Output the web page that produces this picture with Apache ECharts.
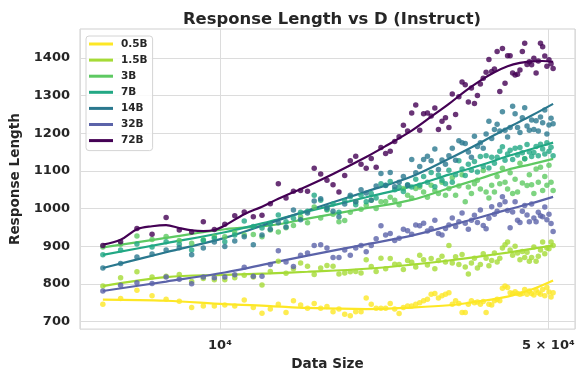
<!DOCTYPE html>
<html>
<head>
<meta charset="utf-8">
<script src="https://cdn.jsdelivr.net/npm/echarts@6/dist/echarts.min.js"></script>
<style>
  html, body { margin: 0; padding: 0; background: #ffffff; }
  #chart { width: 581px; height: 376px; }
</style>
</head>
<body>
<div id="chart"></div>
<script>
// Model sizes and their colours (viridis-like, small -> large)
const modelNames = ['0.5B', '1.5B', '3B', '7B', '14B', '32B', '72B'];
const modelColors = ['#fde725', '#a5db36', '#5ec962', '#22a884', '#2a788e', '#5b63a9', '#440154'];

// Training data sizes shared by every model run
const dataSizes = [
  5632, 6144, 6656, 7168, 7680, 8192, 8704, 9216, 9728, 10240,
  10752, 11264, 11776, 12288, 12800, 13312, 13824, 14336, 14848, 15360,
  15872, 16384, 16896, 17408, 17920, 18432, 18944, 19456, 19968, 20480,
  20992, 21504, 22016, 22528, 23040, 23552, 24064, 24576, 25088, 25600,
  26112, 26624, 27136, 27648, 28160, 28672, 29184, 29696, 30208, 30720,
  31232, 31744, 32256, 32768, 33280, 33792, 34304, 34816, 35328, 35840,
  36352, 36864, 37376, 37888, 38400, 38912, 39424, 39936, 40448, 40960,
  41472, 41984, 42496, 43008, 43520, 44032, 44544, 45056, 45568, 46080,
  46592, 47104, 47616, 48128, 48640, 49152, 49664, 50176, 50688, 51200
];

// Measured mean response length per data size
const len05B = [
  746, 761, 783, 768, 759, 754, 737, 741, 741, 744,
  741, 757, 737, 722, 733, 746, 724, 755, 744, 735,
  748, 735, 740, 726, 733, 719, 715, 726, 726, 762,
  746, 735, 735, 735, 748, 733, 721, 737, 741, 741,
  746, 750, 755, 759, 772, 774, 762, 768, 772, 776,
  746, 755, 748, 724, 724, 746, 755, 750, 752, 746,
  753, 724, 746, 744, 755, 759, 755, 788, 794, 790,
  776, 774, 779, 774, 772, 774, 785, 772, 781, 774,
  770, 783, 776, 772, 785, 768, 790, 778, 765, 776
];
const len15B = [
  794, 816, 832, 818, 820, 825, 806, 814, 811, 811,
  816, 823, 818, 797, 833, 860, 828, 840, 855, 847,
  825, 842, 849, 847, 826, 829, 832, 833, 829, 864,
  846, 833, 868, 840, 867, 852, 851, 838, 862, 857,
  845, 876, 864, 850, 867, 840, 862, 873, 858, 902,
  855, 872, 851, 878, 845, 826, 855, 868, 842, 851,
  880, 868, 848, 862, 882, 858, 868, 895, 904, 911,
  890, 876, 900, 882, 864, 886, 870, 884, 860, 870,
  898, 860, 873, 890, 911, 880, 895, 893, 911, 902
];
const len3B = [
  898, 905, 927, 918, 926, 915, 908, 917, 926, 925,
  936, 930, 931, 925, 943, 938, 949, 955, 978, 962,
  1004, 975, 996, 985, 965, 968, 990, 1018, 998, 1009,
  1022, 1000, 1018, 1019, 1030, 1022, 1010, 1053, 1035, 1028,
  1053, 1057, 1044, 1030, 1062, 1048, 1040, 1070, 1035, 1053,
  1082, 1035, 1060, 1090, 1018, 1057, 1040, 1066, 1075, 1052,
  1101, 1044, 1028, 1062, 1044, 1085, 1066, 1107, 1070, 1052,
  1095, 1040, 1078, 1044, 1120, 1068, 1132, 1061, 1090, 1063,
  1040, 1105, 1070, 1110, 1048, 1085, 1062, 1115, 1070, 1048
];
const len7B = [
  877, 890, 906, 898, 912, 905, 890, 915, 921, 912,
  930, 967, 952, 948, 958, 983, 965, 974, 990, 993,
  1035, 1022, 998, 1012, 990, 1020, 1031, 1010, 1035, 1018,
  1040, 1028, 1066, 1061, 1072, 1050, 1057, 1045, 1063, 1057,
  1078, 1062, 1085, 1070, 1096, 1058, 1089, 1075, 1066, 1102,
  1070, 1090, 1127, 1105, 1088, 1118, 1102, 1125, 1097, 1138,
  1112, 1140, 1108, 1136, 1120, 1136, 1152, 1164, 1128, 1145,
  1155, 1130, 1160, 1142, 1162, 1148, 1132, 1170, 1150, 1138,
  1149, 1165, 1140, 1171, 1158, 1145, 1175, 1152, 1163, 1140
];
const len14B = [
  842, 854, 871, 879, 890, 896, 877, 895, 911, 899,
  914, 925, 904, 930, 945, 962, 951, 996, 970, 988,
  1020, 1026, 1002, 993, 978, 1012, 1035, 1018, 1050, 1041,
  1022, 1060, 1093, 1062, 1096, 1058, 1070, 1085, 1062, 1130,
  1095, 1112, 1130, 1139, 1127, 1158, 1104, 1129, 1118, 1140,
  1160, 1128, 1180, 1175, 1173, 1150, 1136, 1192, 1165, 1175,
  1160, 1198, 1232, 1186, 1210, 1224, 1206, 1257, 1208, 1190,
  1215, 1272, 1252, 1215, 1202, 1241, 1268, 1219, 1208, 1235,
  1210, 1233, 1206, 1243, 1228, 1262, 1198, 1222, 1240, 1225
];
const len32B = [
  781, 796, 803, 801, 818, 812, 800, 818, 816, 818,
  824, 844, 820, 820, 851, 888, 858, 846, 876, 882,
  902, 904, 895, 870, 870, 890, 876, 895, 902, 885,
  902, 920, 954, 930, 934, 915, 921, 945, 941, 932,
  956, 954, 961, 940, 947, 969, 934, 930, 947, 956,
  975, 952, 965, 988, 961, 945, 969, 982, 963, 996,
  955, 946, 974, 1005, 985, 993, 1010, 1031, 1018, 995,
  949, 991, 1018, 969, 963, 993, 1008, 983, 965, 1012,
  975, 965, 990, 981, 978, 1004, 970, 985, 960, 939
];
const len72B = [
  902, 912, 947, 932, 976, 943, 938, 965, 944, 958,
  981, 991, 978, 982, 1013, 1066, 1028, 1046, 1048, 1046,
  1107, 1092, 1075, 1063, 1044, 1088, 1127, 1139, 1118, 1107,
  1133, 1110, 1162, 1146, 1152, 1178, 1191, 1221, 1206, 1254,
  1275, 1208, 1252, 1254, 1246, 1267, 1210, 1232, 1241, 1215,
  1304, 1250, 1297, 1336, 1329, 1283, 1320, 1279, 1300, 1331,
  1346, 1362, 1396, 1364, 1371, 1417, 1311, 1425, 1333, 1406,
  1406, 1360, 1355, 1357, 1368, 1417, 1439, 1383, 1390, 1382,
  1399, 1360, 1392, 1439, 1430, 1405, 1378, 1395, 1385, 1372
];

// Smoothed trend per model
const fitSizes = [5632, 7680, 10240, 12800, 15360, 20480, 25600, 30720, 35840, 40960, 46080, 51200];
const fit05B = [758, 755, 746, 741, 736, 733, 737, 743, 754, 766, 785, 809];
const fit15B = [794, 818, 824, 828, 832, 840, 851, 862, 873, 883, 893, 902];
const fit3B  = [897, 922, 945, 955, 973, 1001, 1023, 1054, 1080, 1103, 1118, 1132];
const fit7B  = [877, 908, 937, 966, 992, 1030, 1059, 1090, 1115, 1139, 1158, 1175];
const fit14B = [842, 884, 922, 962, 995, 1045, 1085, 1132, 1175, 1214, 1247, 1278];
const fit32B = [781, 806, 830, 855, 875, 905, 928, 954, 977, 997, 1014, 1031];
const fitSizes72 = [5632, 6144, 6656, 7168, 7680, 8192, 8704, 9216, 9728, 10240,
  11264, 12288, 13312, 15360, 17408, 20480, 22528, 25600, 28160, 30720,
  33280, 35840, 38400, 40960, 43520, 46080, 48640, 51200];
const fit72B = [904, 917, 945, 953, 956, 948, 942, 940, 943, 955,
  985, 1005, 1026, 1060, 1092, 1137, 1166, 1207, 1244, 1278,
  1312, 1340, 1362, 1378, 1387, 1391, 1392, 1390];

// Axis ticks
const yTicks = [700, 800, 900, 1000, 1100, 1200, 1300, 1400];
const xTickMajor = 10000;
const xTickExtra = 50000;
const xTickExtraLabel = '5 \u00d7 10\u2074';

const pointSets = [len05B, len15B, len3B, len7B, len14B, len32B, len72B];
const fitSets = [
  [fitSizes, fit05B], [fitSizes, fit15B], [fitSizes, fit3B], [fitSizes, fit7B],
  [fitSizes, fit14B], [fitSizes, fit32B], [fitSizes72, fit72B]
];

const FONT = 'DejaVu Sans';
const TEXT = '#262626';
const GRID_LINE = '#dcdcdc';

const zip = (xs, ys) => xs.map((x, i) => [x, ys[i]]);

const series = [];
modelNames.forEach((name, i) => {
  const scatter = {
    type: 'scatter',
    name: name + ' runs',
    data: zip(dataSizes, pointSets[i]),
    symbolSize: 5.5,
    itemStyle: { color: modelColors[i], opacity: 0.8 },
    silent: true,
    z: 2
  };
  if (i === 0) {
    scatter.markLine = {
      silent: true,
      z: 1,
      symbol: ['none', 'none'],
      lineStyle: { color: GRID_LINE, width: 1, type: 'solid' },
      label: {
        show: true,
        position: 'start',
        distance: 10,
        formatter: xTickExtraLabel,
        color: TEXT,
        fontFamily: FONT,
        fontWeight: 'bold',
        fontSize: 13
      },
      data: [{ xAxis: xTickExtra }]
    };
  }
  series.push(scatter);
  series.push({
    type: 'line',
    name: name,
    data: zip(fitSets[i][0], fitSets[i][1]),
    smooth: 0.35,
    symbol: 'none',
    lineStyle: { color: modelColors[i], width: 2.2 },
    itemStyle: { color: modelColors[i] },
    silent: true,
    z: 2
  });
});

const chart = echarts.init(document.getElementById('chart'), null, { renderer: 'canvas' });
chart.setOption({
  animation: false,
  backgroundColor: '#ffffff',
  title: {
    text: 'Response Length vs D (Instruct)',
    left: 327,
    top: 7,
    textAlign: 'center',
    textStyle: { fontFamily: FONT, fontWeight: 'bold', fontSize: 16.4, color: TEXT }
  },
  legend: {
    data: modelNames,
    orient: 'vertical',
    left: 86,
    top: 36,
    icon: 'rect',
    itemWidth: 24,
    itemHeight: 3,
    itemGap: 4.1,
    padding: [2, 5, 4, 3],
    backgroundColor: 'rgba(255,255,255,0.85)',
    borderColor: '#d4d4d4',
    borderWidth: 1,
    borderRadius: 3,
    selectedMode: false,
    textStyle: {
      fontFamily: FONT, fontWeight: 'bold', fontSize: 10.5, color: TEXT,
      lineHeight: 12, padding: [0, 0, 0, 3]
    }
  },
  grid: {
    left: 80, right: 6, top: 29, bottom: 44,
    show: true, borderColor: '#cfcfcf', borderWidth: 1, backgroundColor: '#ffffff'
  },
  xAxis: {
    type: 'log',
    logBase: 10,
    min: 5035,
    max: 57000,
    name: 'Data Size',
    nameLocation: 'middle',
    nameGap: 26,
    nameTextStyle: { fontFamily: FONT, fontWeight: 'bold', fontSize: 13.6, color: TEXT },
    axisLine: { show: false },
    axisTick: { show: false },
    splitLine: { show: true, lineStyle: { color: GRID_LINE, width: 1 } },
    axisLabel: {
      margin: 10,
      showMinLabel: false,
      showMaxLabel: false,
      fontFamily: FONT, fontWeight: 'bold', fontSize: 13, color: TEXT,
      formatter: v => (Math.abs(v - xTickMajor) < 1 ? '10\u2074' : '')
    }
  },
  yAxis: {
    type: 'value',
    min: 679.7,
    max: 1477,
    name: 'Response Length',
    nameLocation: 'middle',
    nameGap: 52,
    nameTextStyle: { fontFamily: FONT, fontWeight: 'bold', fontSize: 13.6, color: TEXT },
    axisLine: { show: false },
    axisTick: { show: false, customValues: yTicks },
    splitLine: { show: true, lineStyle: { color: GRID_LINE, width: 1 } },
    axisLabel: {
      customValues: yTicks,
      margin: 10,
      fontFamily: FONT, fontWeight: 'bold', fontSize: 13, color: TEXT,
      formatter: v => String(Math.round(v))
    }
  },
  series: series
});
</script>
</body>
</html>
